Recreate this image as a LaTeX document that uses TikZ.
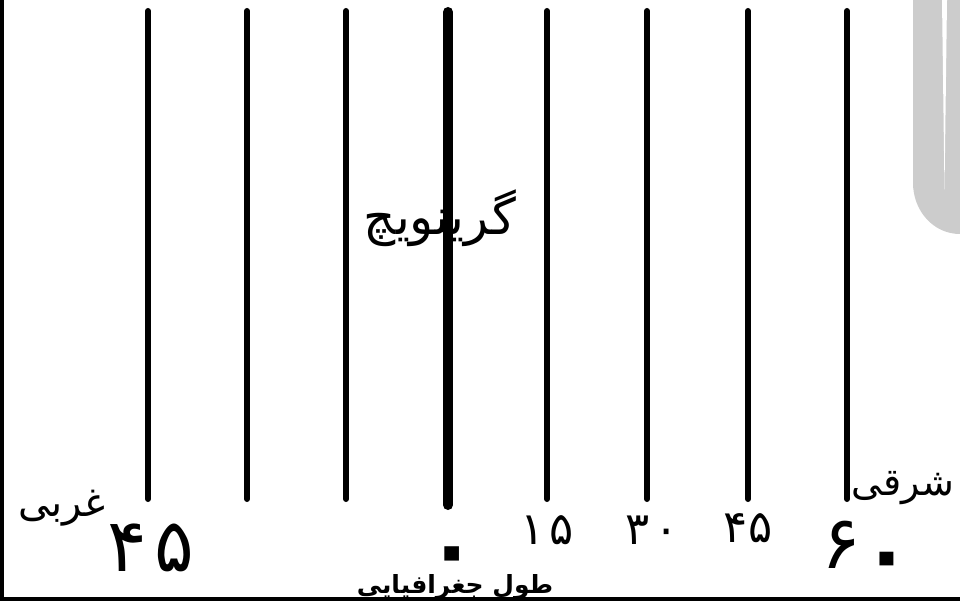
\documentclass[tikz,border=0pt]{standalone}
\usepackage{fontspec}
\newfontfamily\arabicfont[Script=Arabic]{DejaVu Sans}
\TeXXeTstate=1
\newcommand{\bigzero}[1]{{\fontsize{#1}{#1}\selectfont\bfseries ۰}}
\begin{document}
\begin{tikzpicture}[x=1pt, y=-1pt,
    meridian/.style={line width=6pt, line cap=round},
    prime/.style={line width=10pt, line cap=round},
    fa/.style={font=\arabicfont\fontsize{#1}{#1}\selectfont, inner sep=0pt},
    frame/.style={line width=4pt}
]
\useasboundingbox (0,0) rectangle (960,601);

%% Gray tab on the right
\fill[black!20] (913,0) -- (913,183) to[out=-90, in=180] (960,234) -- (960,0) -- cycle;
\fill[white] (942,0) -- (947,0) -- (944.5,190) -- cycle;

%% Frame
\draw[frame] (2,0) -- (2,601);
\draw[frame] (0,599) -- (960,599);

%% Meridians
\foreach \x [count=\i] in {148,247,346,547,647,748,847} {
  \coordinate (top\i) at (\x,11);
  \coordinate (bot\i) at (\x,499);
  \draw[meridian] (top\i) -- (bot\i);
}
\coordinate (gtop) at (448,12);
\coordinate (gbot) at (448,505);
\draw[prime] (gtop) -- (gbot);

%% Labels
\node[fa=50] (greenwich) at (440,218) {\beginR گرینویچ\endR};
\node[fa=40] (west) at (62,508) {\beginR غربی\endR};
\node[fa=38] (east) at (903,488) {\beginR شرقی\endR};
\node[fa=74] (w45) at (151,548) {۴\hspace{0.1em}۵};
\node[fa=74, anchor=base] (zero) at (452,558) {\raisebox{-19pt}{\smash{\bigzero{84}}}};
\node[fa=45] (e15) at (547,530) {۱\hspace{0.1em}۵};
\node[fa=45] (e30) at (652,530) {۳\hspace{0.1em}۰};
\node[fa=45] (e45) at (748,528) {۴۵};
\node[fa=74, anchor=base west] (e60) at (821,568) {۶\hspace{0.02em}\raisebox{-13pt}{\smash{\bigzero{80}}}};
\node[fa=25] (longitude) at (455,587) {\bfseries\beginR طول جغرافیایی\endR};

\end{tikzpicture}
\end{document}
